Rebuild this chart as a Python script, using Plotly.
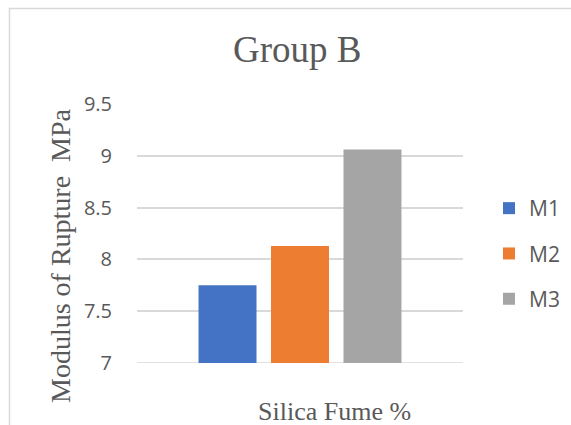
import plotly.graph_objects as go

# Modulus of rupture by mix, Group B
category = ["Silica Fume %"]
series_names = ["M1", "M2", "M3"]
series_values = [7.75, 8.13, 9.06]
series_colors = ["#4472C4", "#ED7D31", "#A5A5A5"]
y_ticks = [7, 7.5, 8, 8.5, 9, 9.5]
y_tick_labels = ["7", "7.5", "8", "8.5", "9", "9.5"]
y_range = [7, 9.5]

W, H = 571, 425
L, R, T, B = 137, 108, 104, 62

serif = "Liberation Serif, Times New Roman, serif"
sans = "Open Sans, Calibri, sans-serif"
grey_text = "#595959"
grid_grey = "#d9d9d9"

fig = go.Figure()
for name, val, col in zip(series_names, series_values, series_colors):
    fig.add_trace(go.Bar(
        x=category, y=[val], name=name,
        marker=dict(color=col, line=dict(width=0)),
        legendgroup=name,
    ))


def px_x(px):
    return (px - L) / (W - L - R)


def px_y(py):
    return (H - B - py) / (H - T - B)


fig.update_layout(
    width=W, height=H,
    margin=dict(l=L, r=R, t=T, b=B, autoexpand=False),
    paper_bgcolor="white", plot_bgcolor="white",
    barmode="group", bargap=0.333, bargroupgap=0.2,
    showlegend=True,
    legend=dict(
        x=px_x(489), y=px_y(188), xanchor="left", yanchor="top",
        font=dict(family=sans, size=21, color=grey_text),
        tracegroupgap=15, bgcolor="rgba(0,0,0,0)",
    ),
    xaxis=dict(showticklabels=False, showgrid=False, zeroline=False,
               showline=False, ticks=""),
    yaxis=dict(range=y_range, tickvals=y_ticks, ticktext=y_tick_labels,
               showgrid=True, gridcolor=grid_grey, gridwidth=1.5,
               zeroline=False, showline=False, ticks="",
               ticklabelstandoff=24,
               tickfont=dict(family=sans, size=20, color=grey_text)),
    annotations=[
        dict(text="Group B", xref="paper", yref="paper",
             x=px_x(297), y=px_y(50), xanchor="center", yanchor="middle",
             showarrow=False, font=dict(family=serif, size=37, color=grey_text)),
        dict(text="Silica Fume %", xref="paper", yref="paper",
             x=px_x(334), y=px_y(411), xanchor="center", yanchor="middle",
             showarrow=False, font=dict(family=serif, size=26, color=grey_text)),
        dict(text="Modulus of Rupture\u00a0\u00a0MPa", xref="paper", yref="paper",
             x=px_x(61), y=px_y(256), xanchor="center", yanchor="middle",
             textangle=-90, showarrow=False,
             font=dict(family=serif, size=28, color=grey_text)),
    ],
    shapes=[
        # chart-area frame
        dict(type="rect", xref="paper", yref="paper", layer="below",
             x0=px_x(9.5), y0=px_y(440), x1=px_x(590), y1=px_y(8.5),
             line=dict(color=grid_grey, width=1.5), fillcolor="rgba(0,0,0,0)"),
        # baseline gridline at the bottom of the value range
        dict(type="line", xref="paper", yref="y", layer="below",
             x0=0, x1=1, y0=y_range[0], y1=y_range[0],
             line=dict(color=grid_grey, width=1.5)),
    ],
)

fig.write_html("out.html")
